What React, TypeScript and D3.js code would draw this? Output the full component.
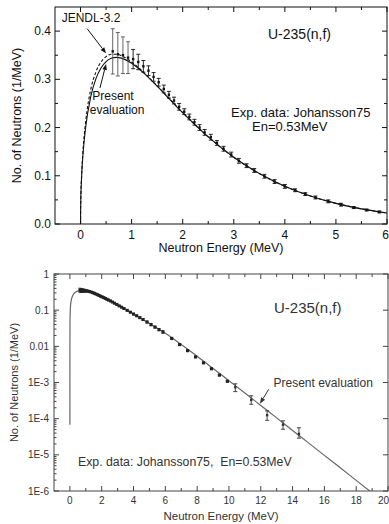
import React from 'react';
import * as d3 from 'd3';

// Present evaluation
const evalE = [0, 1e-8, 0.0001, 0.005, 0.02, 0.05, 0.1, 0.2, 0.3, 0.4, 0.5, 0.6, 0.7, 0.8, 1.0, 1.25, 1.5, 1.75, 2.0, 2.5, 3.0, 3.5, 4.0, 4.5, 5.0, 5.5, 6.0, 7, 8, 9, 10, 11, 12, 13, 14, 15, 16, 17, 18, 19];
const evalY = [0, 6.8e-5, 0.0068, 0.048, 0.0949, 0.1469, 0.2005, 0.264, 0.301, 0.3237, 0.3369, 0.3436, 0.3456, 0.344, 0.3333, 0.3119, 0.2857, 0.2581, 0.2308, 0.1806, 0.1384, 0.1046, 0.0782, 0.0581, 0.0428, 0.0314, 0.0229, 0.0112, 0.00531, 0.00245, 0.00112, 5.13e-4, 2.32e-4, 1.05e-4, 4.73e-5, 2.14e-5, 9.66e-6, 4.37e-6, 1.97e-6, 8.9e-7];

// JENDL-3.2
const jendlE = [0, 0.0001, 0.005, 0.02, 0.05, 0.1, 0.2, 0.3, 0.4, 0.5, 0.6, 0.7, 0.8, 1.0, 1.25, 1.5, 1.75, 2.0, 2.5, 3.0, 3.5, 4.0, 4.5, 5.0, 5.5, 6.0];
const jendlY = [0, 0.007, 0.05, 0.099, 0.155, 0.212, 0.279, 0.315, 0.336, 0.347, 0.352, 0.352, 0.349, 0.336, 0.313, 0.2865, 0.2585, 0.231, 0.1806, 0.1384, 0.1046, 0.0782, 0.0581, 0.0428, 0.0314, 0.0229];

// Johansson75 experimental data
const expE = [0.63, 0.73, 0.83, 0.93, 1.03, 1.13, 1.23, 1.33, 1.43, 1.53, 1.63, 1.73, 1.83, 1.93, 2.03, 2.13, 2.23, 2.33, 2.43, 2.55, 2.67, 2.8, 2.95, 3.1, 3.25, 3.4, 3.6, 3.8, 4.0, 4.2, 4.4, 4.6, 4.85, 5.1, 5.35, 5.6, 5.85];
const expY = [0.358, 0.352, 0.35, 0.345, 0.342, 0.336, 0.327, 0.318, 0.305, 0.294, 0.28, 0.268, 0.256, 0.243, 0.233, 0.222, 0.211, 0.2, 0.19, 0.18, 0.168, 0.156, 0.144, 0.131, 0.121, 0.111, 0.099, 0.088, 0.078, 0.07, 0.062, 0.055, 0.047, 0.04, 0.034, 0.029, 0.025];
const expErr = [0.047, 0.045, 0.038, 0.033, 0.02, 0.016, 0.012, 0.01, 0.009, 0.008, 0.008, 0.007, 0.007, 0.007, 0.006, 0.006, 0.006, 0.006, 0.006, 0.006, 0.005, 0.005, 0.005, 0.005, 0.004, 0.004, 0.004, 0.004, 0.004, 0.003, 0.003, 0.003, 0.003, 0.003, 0.002, 0.002, 0.002];

const midE = [6.4, 6.9, 7.4, 7.9, 8.4, 8.9, 9.4, 9.9];
const midY = [0.0165, 0.0112, 0.0076, 0.0051, 0.0035, 0.0024, 0.0016, 0.00108];

const hiE = [10.4, 11.4, 12.4, 13.4, 14.4];
const hiY = [7.4e-4, 3.3e-4, 1.25e-4, 6.8e-5, 3.8e-5];
const hiLo = [5.6e-4, 2.5e-4, 9.0e-5, 5.1e-5, 2.9e-5];
const hiHi = [9.2e-4, 4.3e-4, 1.65e-4, 8.7e-5, 5.6e-5];

const topXTicks = [0, 1, 2, 3, 4, 5, 6];
const topXMinor = [0.5, 1.5, 2.5, 3.5, 4.5, 5.5];
const topYTicks = [0, 0.1, 0.2, 0.3, 0.4];
const topYMinor = [0.05, 0.15, 0.25, 0.35];
const botXTicks = [0, 2, 4, 6, 8, 10, 12, 14, 16, 18, 20];
const botXMinor = [1, 3, 5, 7, 9, 11, 13, 15, 17, 19];
const botYTicks = [1e-6, 1e-5, 1e-4, 1e-3, 0.01, 0.1, 1];
const botYLabels = ['1E-6', '1E-5', '1E-4', '1E-3', '0.01', '0.1', '1'];

const FONT = 'Liberation Sans, Arial, sans-serif';

function Arrow({ x1, y1, x2, y2, color = '#111' }: any) {
  const ang = Math.atan2(y2 - y1, x2 - x1);
  const L = 6, W = 2.3;
  const bx = x2 - L * Math.cos(ang), by = y2 - L * Math.sin(ang);
  const px = -Math.sin(ang) * W, py = Math.cos(ang) * W;
  return (
    <g>
      <line x1={x1} y1={y1} x2={bx} y2={by} stroke={color} strokeWidth={1} />
      <path d={`M${x2},${y2}L${bx + px},${by + py}L${bx - px},${by - py}Z`} fill={color} />
    </g>
  );
}

export default function App() {
  // top panel
  const xT = d3.scaleLinear().domain([-0.5, 6]).range([55, 387]);
  const yT = d3.scaleLinear().domain([0, 0.45]).range([224, 7]);
  const [tx0, tx1] = xT.range();
  const [ty0, ty1] = yT.range();

  const lineT = d3.line<number>().x((_, i) => xT(evalE[i])).y((_, i) => yT(evalY[i])).curve(d3.curveMonotoneX);
  const jendlLine = d3.line<number>().x((_, i) => xT(jendlE[i])).y((_, i) => yT(jendlY[i])).curve(d3.curveMonotoneX);

  // bottom panel
  const xB = d3.scaleLinear().domain([-1, 20]).range([54, 388]);
  const yB = d3.scaleLog().domain([1e-6, 1]).range([491, 274]);
  const [bx0, bx1] = xB.range();
  const [by0, by1] = yB.range();
  const logIdx = evalE.map((_, i) => i).filter(i => evalY[i] > 0);
  const lineB = d3.line<number>().x(i => xB(evalE[i])).y(i => yB(evalY[i])).curve(d3.curveMonotoneX);

  const minorLog: number[] = [];
  for (let d = -6; d < 0; d++) for (let m = 2; m <= 9; m++) minorLog.push(m * Math.pow(10, d));

  const tc = '#111';
  const bc = '#444';

  return (
    <svg width={389} height={524} style={{ position: 'absolute', left: 0, top: 0, background: '#fff' }} fontFamily={FONT}>
      <defs>
        <clipPath id="clipT"><rect x={tx0} y={ty1} width={tx1 - tx0} height={ty0 - ty1} /></clipPath>
        <clipPath id="clipB"><rect x={bx0} y={by1} width={bx1 - bx0} height={by0 - by1} /></clipPath>
      </defs>
      <rect width={389} height={524} fill="#fff" />

      {/* ================= TOP PANEL ================= */}
      <g clipPath="url(#clipT)">
        <path d={jendlLine(jendlE) || ''} fill="none" stroke={tc} strokeWidth={1.1} strokeDasharray="3,2" />
        <path d={lineT(evalE.filter(e => e <= 6.5)) || ''} fill="none" stroke={tc} strokeWidth={1.1} />
        {expE.map((e, i) => (
          <g key={i} stroke={i < 4 ? '#555' : tc} strokeWidth={0.9}>
            <line x1={xT(e)} x2={xT(e)} y1={yT(expY[i] - expErr[i])} y2={yT(expY[i] + expErr[i])} />
            <line x1={xT(e) - 2} x2={xT(e) + 2} y1={yT(expY[i] - expErr[i])} y2={yT(expY[i] - expErr[i])} />
            <line x1={xT(e) - 2} x2={xT(e) + 2} y1={yT(expY[i] + expErr[i])} y2={yT(expY[i] + expErr[i])} />
            <rect x={xT(e) - 1.2} y={yT(expY[i]) - 1.2} width={2.4} height={2.4} fill={tc} stroke="none" />
          </g>
        ))}
      </g>
      <rect x={tx0} y={ty1} width={tx1 - tx0} height={ty0 - ty1} fill="none" stroke={tc} strokeWidth={1} />
      {topXTicks.map(t => (
        <g key={'tx' + t} stroke={tc}>
          <line x1={xT(t)} x2={xT(t)} y1={ty0} y2={ty0 - 5} />
          <line x1={xT(t)} x2={xT(t)} y1={ty1} y2={ty1 + 5} />
        </g>
      ))}
      {topXMinor.map(t => (
        <g key={'txm' + t} stroke={tc}>
          <line x1={xT(t)} x2={xT(t)} y1={ty0} y2={ty0 - 3} />
          <line x1={xT(t)} x2={xT(t)} y1={ty1} y2={ty1 + 3} />
        </g>
      ))}
      {topYTicks.map(t => (
        <g key={'ty' + t} stroke={tc}>
          <line x1={tx0} x2={tx0 + 5} y1={yT(t)} y2={yT(t)} />
          <line x1={tx1} x2={tx1 - 5} y1={yT(t)} y2={yT(t)} />
        </g>
      ))}
      {topYMinor.map(t => (
        <g key={'tym' + t} stroke={tc}>
          <line x1={tx0} x2={tx0 + 3} y1={yT(t)} y2={yT(t)} />
          <line x1={tx1} x2={tx1 - 3} y1={yT(t)} y2={yT(t)} />
        </g>
      ))}
      {topXTicks.map(t => (
        <text key={'txl' + t} x={t === 6 ? 389 : xT(t)} y={ty0 + 15} fontSize={12} textAnchor={t === 6 ? 'end' : 'middle'} fill={tc}>{t}</text>
      ))}
      {topYTicks.map(t => (
        <text key={'tyl' + t} x={tx0 - 4} y={yT(t) + 4} fontSize={12} textAnchor="end" fill={tc}>{d3.format('.1f')(t)}</text>
      ))}
      <text x={(tx0 + tx1) / 2} y={252} fontSize={12.5} textAnchor="middle" fill={tc}>Neutron Energy (MeV)</text>
      <text transform={`translate(21,${(ty0 + ty1) / 2}) rotate(-90)`} fontSize={12.5} textAnchor="middle" fill={tc}>No. of Neutrons (1/MeV)</text>

      <text x={xT(-0.37)} y={yT(0.418)} fontSize={12} fill={tc}>JENDL-3.2</text>
      <Arrow x1={xT(0.13)} y1={yT(0.405)} x2={xT(0.5)} y2={yT(0.354)} color={tc} />
      <text x={xT(0.23)} y={yT(0.257)} fontSize={12} fill={tc}>Present</text>
      <text x={xT(0.18)} y={yT(0.228)} fontSize={12} fill={tc}>evaluation</text>
      <Arrow x1={xT(0.38)} y1={yT(0.282)} x2={xT(0.5)} y2={yT(0.332)} color={tc} />
      <text x={268} y={yT(0.383)} fontSize={14} fill={tc}>U-235(n,f)</text>
      <text x={231} y={yT(0.221)} fontSize={13} fill={tc}>Exp. data: Johansson75</text>
      <text x={252} y={yT(0.192)} fontSize={13} fill={tc}>En=0.53MeV</text>

      {/* ================= BOTTOM PANEL ================= */}
      <g clipPath="url(#clipB)">
        <path d={lineB(logIdx) || ''} fill="none" stroke="#666" strokeWidth={1.2} />
        {expE.map((e, i) => (
          <g key={'be' + i} stroke="#222" strokeWidth={0.9}>
            <line x1={xB(e)} x2={xB(e)} y1={yB(expY[i] - expErr[i])} y2={yB(expY[i] + expErr[i])} />
            <line x1={xB(e) - 1.5} x2={xB(e) + 1.5} y1={yB(expY[i] - expErr[i])} y2={yB(expY[i] - expErr[i])} />
            <line x1={xB(e) - 1.5} x2={xB(e) + 1.5} y1={yB(expY[i] + expErr[i])} y2={yB(expY[i] + expErr[i])} />
            <rect x={xB(e) - 1.5} y={yB(expY[i]) - 1.5} width={3} height={3} fill="#222" stroke="none" />
          </g>
        ))}
        {midE.map((e, i) => (
          <rect key={'bm' + i} x={xB(e) - 1.6} y={yB(midY[i]) - 1.6} width={3.2} height={3.2} fill="#222" />
        ))}
        {hiE.map((e, i) => (
          <g key={'bh' + i} stroke="#333" strokeWidth={0.9}>
            <line x1={xB(e)} x2={xB(e)} y1={yB(hiLo[i])} y2={yB(hiHi[i])} />
            <line x1={xB(e) - 2} x2={xB(e) + 2} y1={yB(hiLo[i])} y2={yB(hiLo[i])} />
            <line x1={xB(e) - 2} x2={xB(e) + 2} y1={yB(hiHi[i])} y2={yB(hiHi[i])} />
            <rect x={xB(e) - 1.2} y={yB(hiY[i]) - 1.2} width={2.4} height={2.4} fill="#333" stroke="none" />
          </g>
        ))}
      </g>
      <rect x={bx0} y={by1} width={bx1 - bx0} height={by0 - by1} fill="none" stroke={bc} strokeWidth={1} />
      {botXTicks.map(t => (
        <g key={'bx' + t} stroke={bc}>
          <line x1={xB(t)} x2={xB(t)} y1={by0} y2={by0 - 5} />
          <line x1={xB(t)} x2={xB(t)} y1={by1} y2={by1 + 5} />
        </g>
      ))}
      {botXMinor.map(t => (
        <g key={'bxm' + t} stroke={bc}>
          <line x1={xB(t)} x2={xB(t)} y1={by0} y2={by0 - 3} />
          <line x1={xB(t)} x2={xB(t)} y1={by1} y2={by1 + 3} />
        </g>
      ))}
      {botYTicks.map(t => (
        <g key={'by' + t} stroke={bc}>
          <line x1={bx0} x2={bx0 + 5} y1={yB(t)} y2={yB(t)} />
          <line x1={bx1} x2={bx1 - 5} y1={yB(t)} y2={yB(t)} />
        </g>
      ))}
      {minorLog.map((t, i) => (
        <line key={'bym' + i} x1={bx0} x2={bx0 + 2.5} y1={yB(t)} y2={yB(t)} stroke={bc} />
      ))}
      {botXTicks.map(t => (
        <text key={'bxl' + t} x={t === 20 ? 389 : xB(t)} y={by0 + 13} fontSize={10} textAnchor={t === 20 ? 'end' : 'middle'} fill="#333">{t}</text>
      ))}
      {botYTicks.map((t, i) => (
        <text key={'byl' + t} x={bx0 - 5} y={yB(t) + 3.5} fontSize={10} textAnchor="end" fill="#333">{botYLabels[i]}</text>
      ))}
      <text x={(bx0 + bx1) / 2} y={520} fontSize={11.5} textAnchor="middle" fill="#333">Neutron Energy (MeV)</text>
      <text transform={`translate(18,${(by0 + by1) / 2}) rotate(-90)`} fontSize={11} textAnchor="middle" fill="#333">No. of Neutrons (1/MeV)</text>

      <text x={274} y={yB(0.085)} fontSize={15} fill="#333">U-235(n,f)</text>
      <text x={xB(12.8)} y={yB(7.5e-4)} fontSize={12} fill="#333">Present evaluation</text>
      <Arrow x1={xB(12.5)} y1={yB(6.5e-4)} x2={xB(11.95)} y2={yB(2.6e-4)} color="#333" />
      <text x={78} y={466} fontSize={12.3} fill="#333" style={{ whiteSpace: 'pre' }}>{'Exp. data: Johansson75,  En=0.53MeV'}</text>
    </svg>
  );
}
